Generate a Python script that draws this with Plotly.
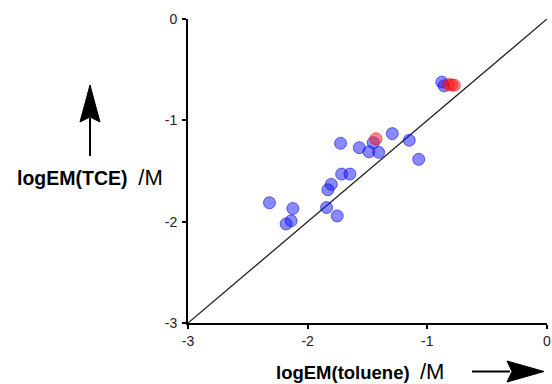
import plotly.graph_objects as go

# logEM values (M)
blue_x = [-0.879, -0.860, -1.452, -1.293, -1.151, -1.072, -1.725, -1.569, -1.488, -1.407,
          -1.716, -1.647, -1.803, -1.831, -1.842, -1.753, -2.319, -2.124, -2.138, -2.180]
blue_y = [-0.623, -0.660, -1.220, -1.131, -1.197, -1.385, -1.227, -1.270, -1.310, -1.316,
          -1.530, -1.530, -1.632, -1.685, -1.860, -1.943, -1.814, -1.870, -1.992, -2.022]
red_x = [-0.824, -0.796, -0.774, -1.429]
red_y = [-0.647, -0.650, -0.653, -1.181]
diag = [-3, 0]
ticks = [-3, -2, -1, 0]
tick_text = ["-3", "-2", "-1", "0"]

FONT = "Liberation Sans, Arial, Helvetica, sans-serif"
W, H = 552, 384
ML, MR, MT, MB = 188, 5, 19, 61
PW, PH = W - ML - MR, H - MT - MB


def px(x, y):
    """pixel position -> paper coordinates (decorations only)"""
    return (x - ML) / PW, (H - MB - y) / PH


def path(points):
    segs = []
    for i, (x, y) in enumerate(points):
        u, v = px(x, y)
        segs.append(("M" if i == 0 else "L") + f"{u:.5f},{v:.5f}")
    return " ".join(segs) + " Z"


fig = go.Figure()
fig.add_trace(go.Scatter(x=diag, y=diag, mode="lines",
                         line=dict(color="#222222", width=1.3), hoverinfo="skip"))
fig.add_trace(go.Scatter(x=blue_x, y=blue_y, mode="markers",
                         marker=dict(size=12, color="rgba(20,20,255,0.5)",
                                     line=dict(color="rgba(0,0,220,0.55)", width=1))))
fig.add_trace(go.Scatter(x=red_x, y=red_y, mode="markers",
                         marker=dict(size=12, color="rgba(255,20,20,0.5)",
                                     line=dict(color="rgba(230,0,0,0.55)", width=1))))

axis_common = dict(range=[-3, 0], tickvals=ticks, ticktext=tick_text,
                   showgrid=False, zeroline=False, showline=True,
                   linecolor="black", linewidth=2, ticks="outside", ticklen=4,
                   tickwidth=1.5, tickcolor="black",
                   tickfont=dict(family=FONT, size=14, color="#222222"))

# arrow decorations (pixel geometry converted to paper coords)
ya_x0, ya_y0 = px(90, 156)
ya_x1, ya_y1 = px(90, 118)
xa_x0, xa_y0 = px(472, 371.5)
xa_x1, xa_y1 = px(510, 371.5)
shapes = [
    dict(type="line", xref="paper", yref="paper", x0=ya_x0, y0=ya_y0, x1=ya_x1, y1=ya_y1,
         line=dict(color="black", width=2)),
    dict(type="path", xref="paper", yref="paper", fillcolor="black",
         line=dict(color="black", width=1),
         path=path([(90, 85), (100, 122), (90, 117), (80, 122)])),
    dict(type="line", xref="paper", yref="paper", x0=xa_x0, y0=xa_y0, x1=xa_x1, y1=xa_y1,
         line=dict(color="black", width=2)),
    dict(type="path", xref="paper", yref="paper", fillcolor="black",
         line=dict(color="black", width=1),
         path=path([(544, 371.5), (507, 382), (512, 371.5), (507, 361)])),
]

tx, ty = px(90, 177)
bx, by = px(360, 371.5)

fig.update_layout(
    width=W, height=H,
    margin=dict(l=ML, r=MR, t=MT, b=MB, autoexpand=False),
    plot_bgcolor="white", paper_bgcolor="white",
    showlegend=False,
    xaxis=dict(**axis_common),
    yaxis=dict(**axis_common, ticklabelstandoff=2),
    shapes=shapes,
    annotations=[
        dict(xref="paper", yref="paper", x=tx, y=ty, xanchor="center", yanchor="middle",
             showarrow=False,
             text="<b>logEM(TCE)</b>  <span style='font-size:22px'>/M</span>",
             font=dict(family=FONT, size=19.5, color="black")),
        dict(xref="paper", yref="paper", x=bx, y=by, xanchor="center", yanchor="middle",
             showarrow=False,
             text="<b>logEM(toluene)</b>  <span style='font-size:22px'>/M</span>",
             font=dict(family=FONT, size=18.5, color="black")),
    ],
)

fig.write_html("out.html", config={"displayModeBar": False},
               post_script="document.body.style.margin='0';")
